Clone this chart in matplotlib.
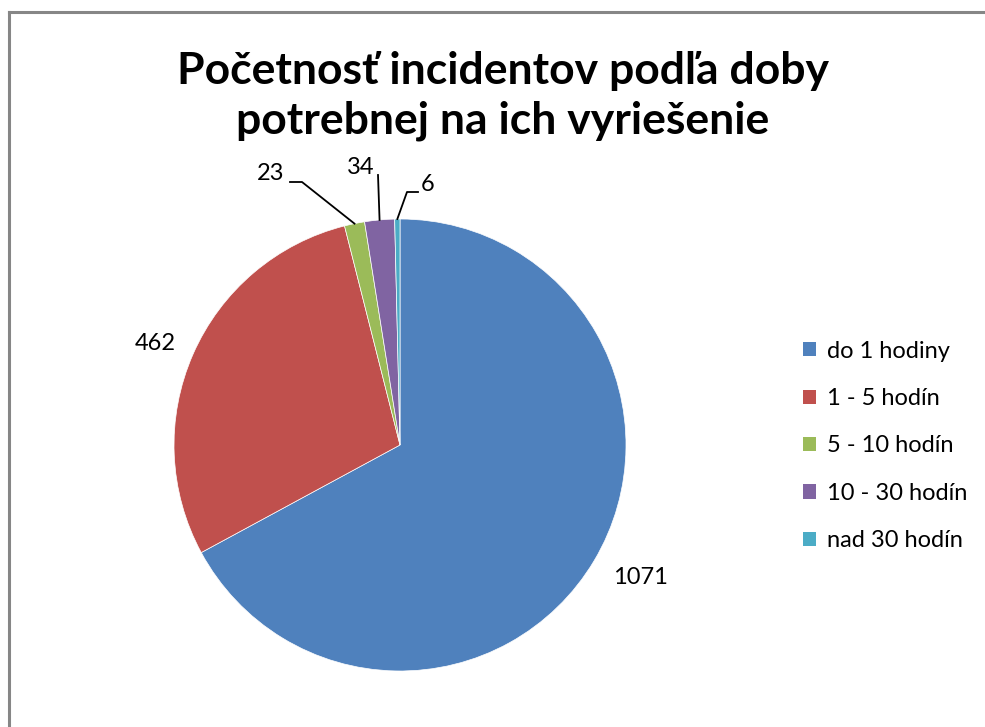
import numpy as np
import matplotlib
matplotlib.use("Agg")
import matplotlib.pyplot as plt
from matplotlib.lines import Line2D
from matplotlib.patches import Patch

categories = ["do 1 hodiny", "1 - 5 hodín", "5 - 10 hodín", "10 - 30 hodín", "nad 30 hodín"]
values = [1071, 462, 23, 34, 6]
colors = ["#4F81BD", "#C0504D", "#9BBB59", "#8064A2", "#4BACC6"]
title = "Početnosť incidentov podľa doby\npotrebnej na ich vyriešenie"

W, H = 985, 727
fig = plt.figure(figsize=(W / 100, H / 100), dpi=100)
plt.rcParams['font.family'] = ['Lato', 'DejaVu Sans']

# frame
fig.add_artist(Line2D([8.5 / W, 8.5 / W], [0, 1 - 11.5 / H], color="#868686", lw=2.2, transform=fig.transFigure))
fig.add_artist(Line2D([8.5 / W, 1], [1 - 11.5 / H, 1 - 11.5 / H], color="#868686", lw=2.2, transform=fig.transFigure))

cx, cy, r = 400, 445, 226
ax = fig.add_axes([(cx - r) / W, (H - cy - r) / H, 2 * r / W, 2 * r / H])
wedges, _ = ax.pie(values, colors=colors, startangle=90, counterclock=False,
                   radius=1.0, wedgeprops=dict(edgecolor="white", linewidth=0.5))
ax.set_xlim(-1, 1)
ax.set_ylim(-1, 1)
ax.set_aspect("equal")
ax.axis("off")

fig.text(503 / W, 1 - 96 / H, title, ha="center", va="center", fontsize=32,
         fontweight="bold", linespacing=1.3)

label_pos = [(640, 578), (155, 343), (271, 174), (361, 167), (428, 184)]
leaders = [None, None, "23", "34", "6"]

total = sum(values)
start = 90.0
mids = []
for v in values:
    span = v / total * 360
    mids.append(start - span / 2)
    start -= span

def px2data(px, py):
    return ((px - cx) / r, (cy - py) / r)

for i, (v, (tx, ty)) in enumerate(zip(values, label_pos)):
    dx, dy = px2data(tx, ty)
    ax.text(dx, dy, str(v), ha="center", va="center", fontsize=17, clip_on=False)
    if leaders[i] is not None:
        ang = np.deg2rad(mids[i])
        ex, ey = np.cos(ang) * 1.0, np.sin(ang) * 1.0
        if i == 2:
            pts = [px2data(290, 182), px2data(302, 182), (ex, ey)]
        elif i == 3:
            pts = [px2data(378, 175), (ex, ey)]
        else:
            pts = [px2data(418, 192), px2data(407, 192), (ex, ey)]
        xs, ys = zip(*pts)
        ax.plot(xs, ys, color="black", lw=1.3, clip_on=False)

handles = [Patch(facecolor=c, edgecolor="none") for c in colors]
leg = fig.legend(handles, categories, loc="center left",
                 bbox_to_anchor=(803 / W, 1 - 446 / H), frameon=False,
                 fontsize=17, handlelength=0.56, handleheight=0.56,
                 handletextpad=0.45, labelspacing=1.12, borderaxespad=0,
                 borderpad=0)

fig.savefig("out.png", dpi=100, facecolor="white")
